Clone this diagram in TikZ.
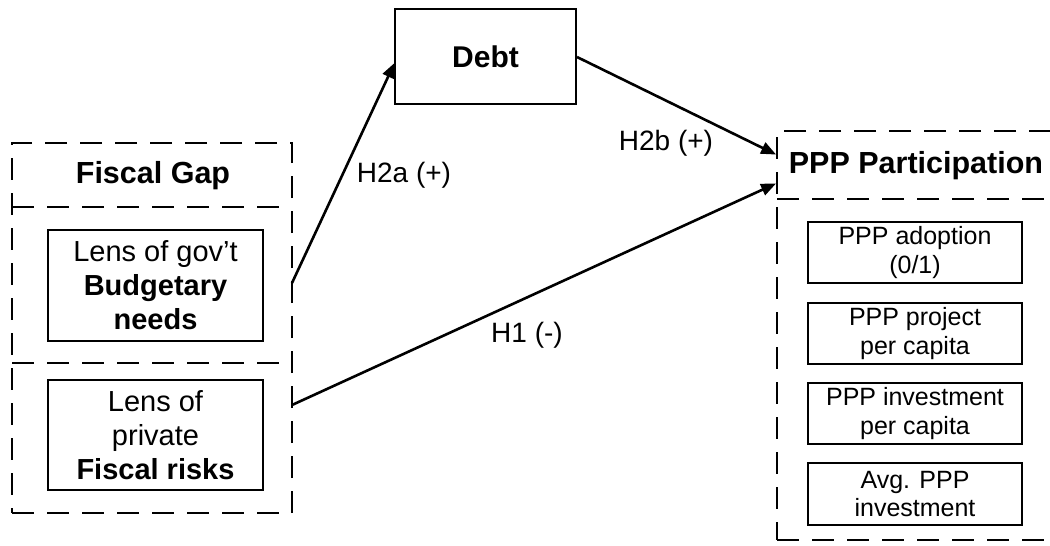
\documentclass[tikz,border=0pt]{standalone}
\usepackage{fontspec}
\setmainfont{Liberation Sans}
\usetikzlibrary{arrows.meta}
\begin{document}
\begin{tikzpicture}[x=1pt,y=-1pt,
  solidbox/.style={draw, line width=2.6pt, inner sep=0pt, align=center},
  groupbox/.style={draw, line width=2.6pt, dash pattern=on 22pt off 13pt, inner sep=0pt},
  divider/.style={line width=2.6pt, dash pattern=on 22pt off 13pt},
  link/.style={line width=2.6pt, -{Triangle[length=15pt,width=12pt]}, shorten >=1pt},
  lbl/.style={font=\fontsize{28}{32}\selectfont, inner sep=0pt},
  txt/.style={font=\fontsize{29}{34}\selectfont},
  rtxt/.style={font=\fontsize{25}{28.5}\selectfont}
]
\clip (0,0) rectangle (1050,546);
\fill[white] (0,0) rectangle (1050,546);

% Fiscal Gap group
\node[groupbox, minimum width=280pt, minimum height=370pt] (fg) at (152,328) {};
\node[font=\fontsize{30.5}{34}\selectfont\bfseries] (fghead) at (153,176) {Fiscal Gap};
\coordinate (d1l) at (12,207); \coordinate (d1r) at (292,207);
\coordinate (d2l) at (12,363); \coordinate (d2r) at (292,363);
\draw[divider] (d1l) -- (d1r);
\draw[divider] (d2l) -- (d2r);
\node[solidbox, minimum width=215pt, minimum height=111pt, txt] (budget) at (155.5,285.5)
  {Lens of gov’t\\\textbf{Budgetary}\\\textbf{needs}};
\node[solidbox, minimum width=215pt, minimum height=110pt, txt] (risk) at (155.5,435)
  {Lens of\\private\\\textbf{Fiscal risks}};

% Debt
\node[solidbox, minimum width=181pt, minimum height=95pt, font=\fontsize{30}{34}\selectfont\bfseries] (debt) at (485.5,56.5) {Debt};

% PPP Participation group
\node[groupbox, minimum width=300pt, minimum height=409pt] (ppp) at (927,335.5) {};
\node[font=\fontsize{30.5}{34}\selectfont\bfseries] (ppphead) at (916,166) {PPP Participation};
\coordinate (d3l) at (777,199); \coordinate (d3r) at (1077,199);
\draw[divider] (d3l) -- (d3r);
\node[solidbox, minimum width=214pt, minimum height=61pt, rtxt] (adopt) at (915,252.5) {PPP adoption\\(0/1)};
\node[solidbox, minimum width=214pt, minimum height=61pt, rtxt] (proj) at (915,333.5) {PPP project\\per capita};
\node[solidbox, minimum width=214pt, minimum height=61pt, rtxt] (inv) at (915,413.5) {PPP investment\\per capita};
\node[solidbox, minimum width=214pt, minimum height=62pt, rtxt] (avg) at (915,494) {Avg. PPP\\investment};

% connectors
\coordinate (s1) at (292,283);
\coordinate (s2) at (292,405);
\coordinate (t1) at (777,155);
\coordinate (t2) at (777,183);
\coordinate (dl) at (395,62);
\coordinate (dr) at (577,57);
\draw[link] (s1) -- (dl);
\draw[link] (dr) -- (t1);
\draw[link] (s2) -- (t2);

\node[lbl] (h2a) at (404,175) {H2a (+)};
\node[lbl] (h2b) at (666,143) {H2b (+)};
\node[lbl] (h1) at (527,335) {H1 (-)};
\end{tikzpicture}
\end{document}
